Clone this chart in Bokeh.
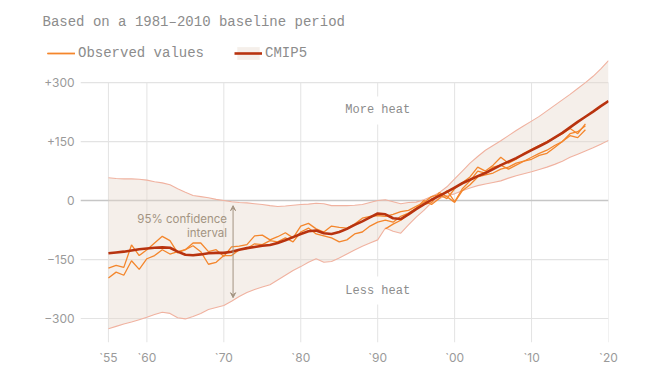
from bokeh.plotting import figure
from bokeh.models import (ColumnDataSource, FixedTicker, Legend, LegendItem, Label,
                          Arrow, VeeHead, Range1d)
from bokeh.core.properties import value
from bokeh.embed import file_html
from bokeh.resources import INLINE

# ---------------- data ----------------
obs_years_ab = list(range(1955, 2018))
obs_a = [-172, -165, -170, -113, -140, -125, -108, -91, -102, -133,
         -125, -108, -108, -130, -125, -142, -118, -116, -112, -90,
         -88, -100, -92, -82, -95, -65, -58, -72, -80, -65,
         -68, -70, -60, -45, -40, -38, -40, -35, -28, -25,
         -15, -5, 10, 15, 5, 30, 45, 60, 85, 75,
         90, 110, 95, 105, 120, 130, 140, 150, 160, 170,
         183, 170, 195]
obs_b = [-197, -182, -190, -153, -175, -148, -140, -125, -136, -130,
         -125, -115, -130, -162, -157, -140, -140, -125, -122, -110,
         -112, -102, -105, -95, -105, -80, -70, -85, -90, -95,
         -105, -100, -85, -80, -65, -55, -50, -55, -40, -32,
         -20, -10, -5, 20, 10, -5, 25, 40, 60, 65,
         70, 80, 85, 95, 100, 110, 120, 128, 140, 150,
         165, 160, 180]
obs_years_c = list(range(1991, 2018))
obs_c = [-72, -60, -50, -35, -20, 0, -10, 5, 25, -3,
         30, 50, 75, 70, 85, 90, 80, 90, 100, 105,
         115, 120, 135, 150, 170, 175, 190]

model_years = list(range(1955, 2021))
cmip_mean = [-134, -132, -130, -127, -124, -122, -120, -119, -120, -130,
             -138, -139, -137, -134, -133, -133, -130, -125, -121, -118,
             -115, -113, -108, -101, -93, -85, -78, -76, -83, -85,
             -80, -72, -62, -53, -43, -33, -35, -45, -47, -35,
             -22, -10, 2, 12, 22, 33, 44, 53, 62, 70,
             80, 90, 99, 108, 118, 128, 138, 148, 160, 172,
             186, 200, 213, 226, 240, 253]
cmip_upper = [58, 56, 55, 55, 54, 52, 48, 45, 40, 30,
              21, 13, 10, 7, 3, 0, -3, -5, -6, -8,
              -10, -13, -15, -14, -12, -10, -9, -7, -8, -13,
              -13, -13, -12, -10, -5, 0, 2, -3, -8, -5,
              -4, 2, 10, 20, 35, 55, 75, 95, 112, 128,
              140, 152, 165, 178, 190, 202, 214, 228, 242, 256,
              270, 285, 300, 316, 335, 356]
cmip_lower = [-326, -320, -314, -309, -303, -297, -290, -284, -287, -298,
              -301, -295, -287, -277, -272, -267, -256, -244, -234, -226,
              -220, -214, -202, -190, -178, -168, -157, -148, -157, -155,
              -146, -136, -126, -116, -108, -100, -70, -78, -83, -62,
              -42, -25, -5, 5, 12, 17, 25, 32, 38, 42,
              46, 50, 57, 63, 68, 73, 79, 85, 92, 100,
              110, 118, 126, 134, 143, 153]

x_ticks = [1955, 1960, 1970, 1980, 1990, 2000, 2010, 2020]
x_labels = ["`55", "`60", "`70", "`80", "`90", "`00", "`10", "`20"]
y_ticks = [-300, -150, 0, 150, 300]
y_labels = ["\u2212300", "\u2212150", "0", "+150", "+300"]

title_text = "Based on a 1981\u20132010 baseline period"
more_heat = ("More heat", 1990, 229)
less_heat = ("Less heat", 1990, -229)
ci_text = "95% confidence\ninterval"
ci_arrow = (1971.2, -13, -247)

# ---------------- layout / styles ----------------
X_START, X_END = 1946.17, 2020      # frame spans page x 40..608
GRID_X0 = 1951.4                    # horizontal grid lines start (page x ~80)
YLAB_X = 1950.6                     # right edge of y tick labels (page x ~74)
ORANGE = "#f4862c"
DARKRED = "#b8330f"
EDGE = "#f0b2a0"
BAND = "#e6d6ca"
GRID = "#e3e3e3"
ZERO = "#c6c6c6"
TEXT = "#8c8c8c"
TICK = "#9a9a9a"
MONO = "Liberation Mono"
SANS = "Inter"

p = figure(width=654, height=370, output_backend="svg", toolbar_location=None,
           x_range=Range1d(X_START, X_END), y_range=Range1d(-361, 407),
           min_border_left=40, min_border_right=46, min_border_top=40,
           min_border_bottom=28)
p.outline_line_color = None
p.background_fill_color = "white"
p.border_fill_color = "white"

# title
p.title.text = title_text
p.title.text_font = MONO
p.title.text_font_size = "14px"
p.title.text_font_style = "normal"
p.title.text_color = TEXT
p.title.align = "left"
p.title.offset = 2
p.title.standoff = 22

# grid (drawn as segments so they can stop where the reference stops)
p.xgrid.visible = False
p.ygrid.visible = False
p.segment(x0=x_ticks, x1=x_ticks, y0=[p.y_range.start] * len(x_ticks),
          y1=[max(y_ticks)] * len(x_ticks), line_color=GRID, line_width=1)
p.segment(x0=[GRID_X0] * len(y_ticks), x1=[X_END] * len(y_ticks), y0=y_ticks, y1=y_ticks,
          line_color=[ZERO if t == 0 else GRID for t in y_ticks],
          line_width=[1.6 if t == 0 else 1.2 for t in y_ticks])

# axes
p.yaxis.visible = False
ax = p.xaxis[0]
ax.axis_line_color = None
ax.major_tick_line_color = None
ax.minor_tick_line_color = None
ax.major_label_text_color = TICK
ax.major_label_text_font = SANS
ax.major_label_text_font_size = "12px"
ax.major_label_standoff = 1
ax.ticker = FixedTicker(ticks=x_ticks)
ax.major_label_overrides = dict(zip(x_ticks, x_labels))

p.text(x=[YLAB_X] * len(y_ticks), y=y_ticks, text=y_labels, text_align="right",
       text_baseline="middle", text_font=value(SANS), text_font_size="12px",
       text_color=TICK)

# band
band_src = ColumnDataSource(dict(x=model_years, lo=cmip_lower, hi=cmip_upper, m=cmip_mean))
band = p.varea(x="x", y1="lo", y2="hi", source=band_src, fill_color=BAND, fill_alpha=0.4)
p.line(x="x", y="hi", source=band_src, line_color=EDGE, line_width=1.1)
p.line(x="x", y="lo", source=band_src, line_color=EDGE, line_width=1.1)

# observations
ra = p.line(obs_years_ab, obs_a, line_color=ORANGE, line_width=1.3)
rb = p.line(obs_years_ab, obs_b, line_color=ORANGE, line_width=1.3)
rc = p.line(obs_years_c, obs_c, line_color=ORANGE, line_width=1.3)

# model mean
rm = p.line(x="x", y="m", source=band_src, line_color=DARKRED, line_width=2.6)

# annotations
for txt, xx, yy in (more_heat, less_heat):
    p.add_layout(Label(x=xx, y=yy, text=txt, text_font=MONO, text_font_size="12px",
                       text_color=TEXT, text_align="center", text_baseline="middle",
                       background_fill_color="white", padding=7))
p.add_layout(Label(x=ci_arrow[0], y=ci_arrow[1], x_offset=-6, y_offset=-6, text=ci_text,
                   text_font=SANS, text_font_size="11.5px", text_color="#a39482",
                   text_align="right", text_baseline="top", text_line_height=1.0))
p.add_layout(Arrow(x_start=ci_arrow[0], y_start=ci_arrow[2], x_end=ci_arrow[0], y_end=ci_arrow[1],
                   line_color="#a39482", line_width=1,
                   end=VeeHead(size=5, line_color="#a39482", fill_color="#a39482"),
                   start=VeeHead(size=5, line_color="#a39482", fill_color="#a39482")))

# legend
legend = Legend(items=[LegendItem(label="Observed values", renderers=[ra, rb, rc]),
                       LegendItem(label="CMIP5", renderers=[band, rm])],
                location=(7, 281), orientation="horizontal", padding=0, margin=0,
                spacing=30, glyph_width=28, glyph_height=16, label_height=16,
                label_standoff=3, label_text_font=MONO, label_text_font_size="14px",
                label_text_color=TEXT, border_line_color=None, background_fill_alpha=0)
p.add_layout(legend)

open("out.html", "w").write(file_html(p, INLINE))
